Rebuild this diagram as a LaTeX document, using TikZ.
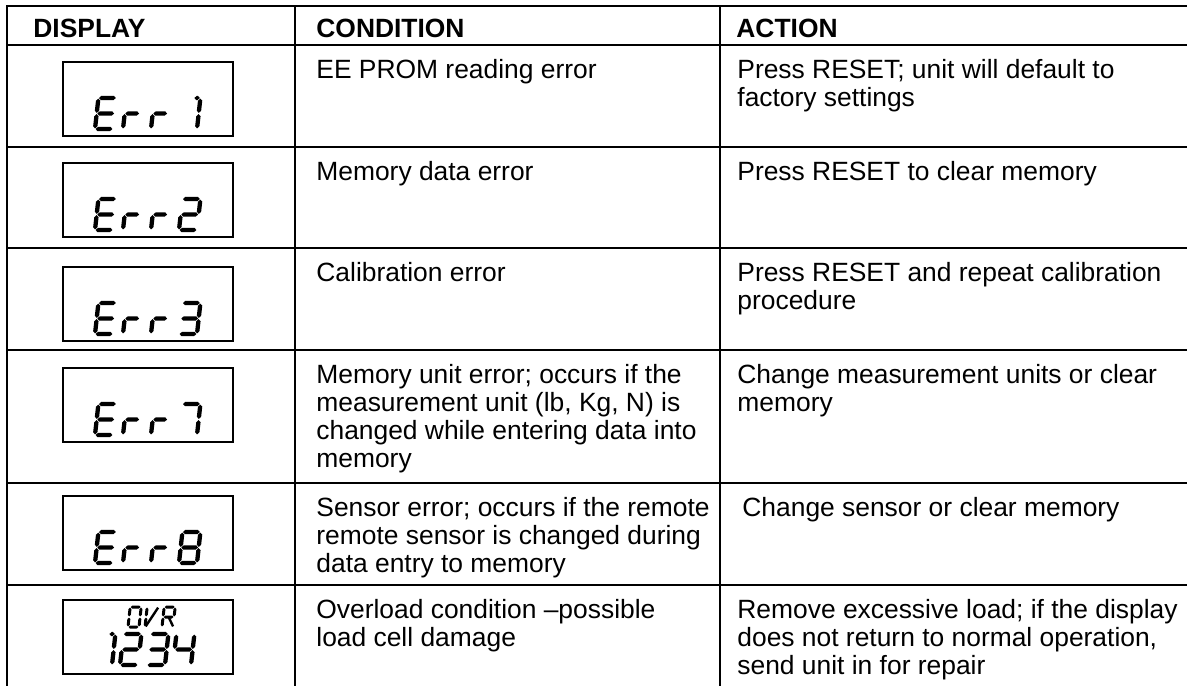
\documentclass[tikz,border=0pt]{standalone}
\usepackage{fontspec}
\setmainfont{Liberation Sans}

% --- seven-segment glyph helpers (local units: px, y upwards) ---
\newcommand\lcdW{18}
\newcommand\lcdH{31}
\newcommand\lcdT{4.3}
\newcommand\lcdG{0.6}
\newcommand\lcdhbar[3]{% x1, x2, y
  \fill (#1,#3) -- (#1+\lcdT/2,#3+\lcdT/2) -- (#2-\lcdT/2,#3+\lcdT/2) -- (#2,#3)
        -- (#2-\lcdT/2,#3-\lcdT/2) -- (#1+\lcdT/2,#3-\lcdT/2) -- cycle;}
\newcommand\lcdvbar[3]{% x, y1, y2
  \fill (#1,#2) -- (#1+\lcdT/2,#2+\lcdT/2) -- (#1+\lcdT/2,#3-\lcdT/2) -- (#1,#3)
        -- (#1-\lcdT/2,#3-\lcdT/2) -- (#1-\lcdT/2,#2+\lcdT/2) -- cycle;}
\expandafter\newcommand\csname lcdsega\endcsname{\lcdhbar{\lcdG}{\lcdW-\lcdG}{\lcdH}}
\expandafter\newcommand\csname lcdsegg\endcsname{\lcdhbar{\lcdG}{\lcdW-\lcdG}{\lcdH/2}}
\expandafter\newcommand\csname lcdsegd\endcsname{\lcdhbar{\lcdG}{\lcdW-\lcdG}{0}}
\expandafter\newcommand\csname lcdsegf\endcsname{\lcdvbar{0}{\lcdH/2+\lcdG}{\lcdH-\lcdG}}
\expandafter\newcommand\csname lcdsege\endcsname{\lcdvbar{0}{\lcdG}{\lcdH/2-\lcdG}}
\expandafter\newcommand\csname lcdsegb\endcsname{\lcdvbar{\lcdW}{\lcdH/2+\lcdG}{\lcdH-\lcdG}}
\expandafter\newcommand\csname lcdsegc\endcsname{\lcdvbar{\lcdW}{\lcdG}{\lcdH/2-\lcdG}}
% short middle bar (letter r) and short top flag (digit 1)
\expandafter\newcommand\csname lcdsegs\endcsname{\lcdhbar{\lcdG}{\lcdW-\lcdG-3}{\lcdH/2}}
\expandafter\newcommand\csname lcdsegt\endcsname{\lcdhbar{\lcdW-6}{\lcdW-\lcdG}{\lcdH}}
% diagonals for the letters V and R
\expandafter\newcommand\csname lcdsegv\endcsname{\draw[line width=\lcdT*0.4pt] (\lcdG,\lcdG) -- (\lcdW,\lcdH-\lcdG);}
\expandafter\newcommand\csname lcdsegk\endcsname{\draw[line width=\lcdT*0.4pt] (\lcdW/2,\lcdH/2) -- (\lcdW,\lcdG);}

% #1 x, #2 y of lower-left corner; #3 list of segments
\newcommand\lcdglyph[3]{%
  \begin{scope}[shift={(#1,#2)}, x=0.5pt, y=0.5pt, xslant=0.11]
    \foreach \s in {#3}{\csname lcdseg\s\endcsname}
  \end{scope}}
\newcommand\lcdErr[3]{% x, baseline y, last glyph segments
  \lcdglyph{#1}{#2}{a,f,g,e,d}
  \lcdglyph{#1+28}{#2}{e,s}
  \lcdglyph{#1+56}{#2}{e,s}
  \lcdglyph{#1+84}{#2}{#3}}

\tikzset{
  rule/.style={line width=1.35pt, line cap=rect},
  lcdframe/.style={line width=1pt},
  cell/.style={anchor=north west, inner sep=0pt, align=left,
               font=\fontsize{13.2}{14}\selectfont},
  head/.style={cell, font=\fontsize{13.2}{14}\selectfont\bfseries},
}

\begin{document}
\begin{tikzpicture}[x=0.5pt, y=-0.5pt]
\useasboundingbox (0,0) rectangle (1187,685);

% table rules
\draw[rule] (7,685) -- (7,6) -- (1190,6);
\foreach \yy in {45,147,248,350,483,585}
  \draw[rule] (7,\yy) -- (1190,\yy);
\draw[rule] (295,6) -- (295,690);
\draw[rule] (720,6) -- (720,690);

% header
\node[head] (hdisp) at (33,17.4) {\strut DISPLAY};
\node[head] (hcond) at (316,17.4) {\strut CONDITION};
\node[head] (hact)  at (736,17.4) {\strut ACTION};

% display windows
\foreach \t/\n in {62/d1,163/d2,267/d3,368/d4,496/d5,600/d6}
  \draw[lcdframe] (63,\t) rectangle (233,\t+74) coordinate (\n);

% readouts
\lcdErr{95}{129}{t,b,c}
\lcdErr{95}{230}{a,b,g,e,d}
\lcdErr{95}{334}{a,b,g,c,d}
\lcdErr{95}{435}{a,b,c}
\lcdErr{95}{563}{a,b,c,d,e,f,g}
\lcdglyph{94}{665}{t,b,c}
\lcdglyph{120}{665}{a,b,g,e,d}
\lcdglyph{147}{665}{a,b,g,c,d}
\lcdglyph{173}{665}{f,g,b,c}
\renewcommand\lcdW{11}\renewcommand\lcdH{20}\renewcommand\lcdT{3}\renewcommand\lcdG{0.6}
\lcdglyph{128}{627}{a,b,c,d,e,f}
\lcdglyph{145}{627}{f,e,v}
\lcdglyph{162}{627}{a,b,f,e,g,k}

% conditions
\node[cell] (c1) at (316,58.4)  {\strut EE PROM reading error};
\node[cell] (c2) at (316,160.4) {\strut Memory data error};
\node[cell] (c3) at (316,261.4) {\strut Calibration error};
\node[cell] (c4) at (316,363.4) {\strut Memory unit error; occurs if the\\measurement unit (lb, Kg, N) is\\changed while entering data into\\memory};
\node[cell] (c5) at (316,496.4) {\strut Sensor error; occurs if the remote\\remote sensor is changed during\\data entry to memory};
\node[cell] (c6) at (316,598.4) {\strut Overload condition \textendash possible\\load cell damage};

% actions
\node[cell] (a1) at (737,58.4)  {\strut Press RESET; unit will default to\\factory settings};
\node[cell] (a2) at (737,160.4) {\strut Press RESET to clear memory};
\node[cell] (a3) at (737,261.4) {\strut Press RESET and repeat calibration\\procedure};
\node[cell] (a4) at (737,363.4) {\strut Change measurement units or clear\\memory};
\node[cell] (a5) at (742,496.4) {\strut Change sensor or clear memory};
\node[cell] (a6) at (737,598.4) {\strut Remove excessive load; if the display\\does not return to normal operation,\\send unit in for repair};
\end{tikzpicture}
\end{document}
